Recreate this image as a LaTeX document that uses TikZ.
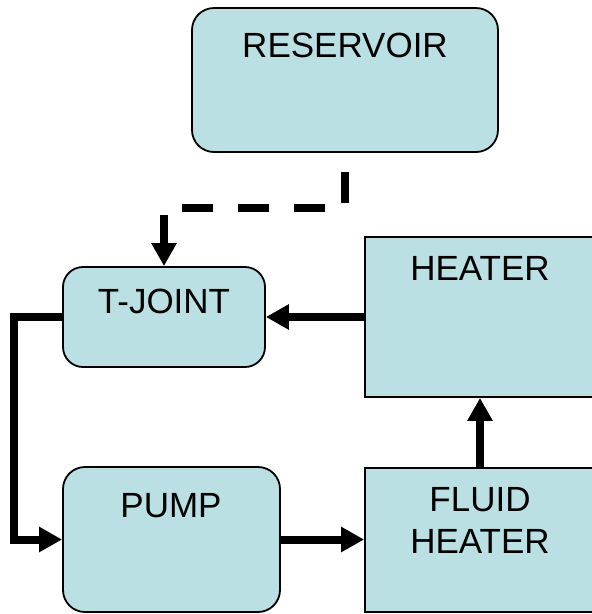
\documentclass[tikz,border=0pt]{standalone}
\usepackage{fontspec}
\setmainfont{Liberation Sans}
\usetikzlibrary{arrows.meta}
\definecolor{boxfill}{RGB}{186,224,227}
\tikzset{
  box/.style={draw=black, line width=1.8pt, fill=boxfill, inner sep=0pt},
  rbox/.style={box, rounded corners=22pt},
  lbl/.style={anchor=base, inner sep=0pt, font=\fontsize{35}{40}\selectfont},
  flow/.style={line width=8pt, -{Triangle[length=23pt,width=24pt]}},
}
\begin{document}
\begin{tikzpicture}[x=1pt,y=-1pt]
\useasboundingbox (0,0) rectangle (592,614);
\node[rbox, minimum width=306pt, minimum height=144pt] (res) at (345,80) {};
\node[rbox, minimum width=202pt, minimum height=100pt, rounded corners=20pt] (tj) at (164,317) {};
\node[box, minimum width=230pt, minimum height=160pt] (heater) at (480,317) {};
\node[rbox, minimum width=217pt, minimum height=145pt] (pump) at (171.5,539.5) {};
\node[box, minimum width=230pt, minimum height=144pt] (fluid) at (480,540) {};

\node[lbl] (t1) at (345,57) {RESERVOIR};
\node[lbl] (t2) at (164,313) {T-JOINT};
\node[lbl] (t3) at (480,280) {HEATER};
\node[lbl] (t4) at (171,517) {PUMP};
\node[lbl] (t5) at (480,511) {FLUID};
\node[lbl] (t6) at (480,553) {HEATER};

\coordinate (ds) at (345,172);
\draw[flow, dash pattern=on 31pt off 25pt] (ds) -- ++(0,36) -| (tj.north);
\draw[flow] (heater.west) -- (tj.east);
\draw[flow] (tj.west) -- ++(-48,0) |- (pump.west);
\draw[flow] (pump.east) -- (fluid.west |- pump.east);
\draw[flow] (fluid.north) -- (heater.south);
\end{tikzpicture}
\end{document}
